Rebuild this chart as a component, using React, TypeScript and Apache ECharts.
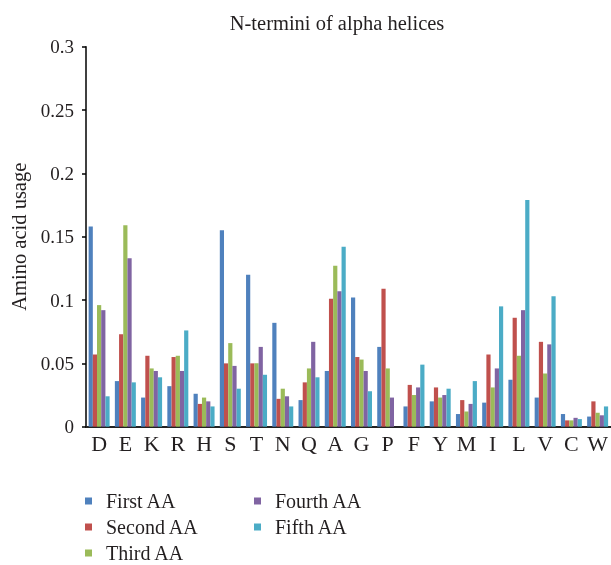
import React, { useEffect, useRef } from "react";
import * as echarts from "echarts";

const categories = ["D", "E", "K", "R", "H", "S", "T", "N", "Q", "A", "G", "P", "F", "Y", "M", "I", "L", "V", "C", "W"];
const firstAA = [0.158, 0.036, 0.023, 0.032, 0.026, 0.155, 0.120, 0.082, 0.021, 0.044, 0.102, 0.063, 0.016, 0.020, 0.010, 0.019, 0.037, 0.023, 0.010, 0.008];
const secondAA = [0.057, 0.073, 0.056, 0.055, 0.018, 0.050, 0.050, 0.022, 0.035, 0.101, 0.055, 0.109, 0.033, 0.031, 0.021, 0.057, 0.086, 0.067, 0.005, 0.020];
const thirdAA = [0.096, 0.159, 0.046, 0.056, 0.023, 0.066, 0.050, 0.030, 0.046, 0.127, 0.053, 0.046, 0.025, 0.023, 0.012, 0.031, 0.056, 0.042, 0.005, 0.011];
const fourthAA = [0.092, 0.133, 0.044, 0.044, 0.020, 0.048, 0.063, 0.024, 0.067, 0.107, 0.044, 0.023, 0.031, 0.025, 0.018, 0.046, 0.092, 0.065, 0.007, 0.009];
const fifthAA = [0.024, 0.035, 0.039, 0.076, 0.016, 0.030, 0.041, 0.016, 0.039, 0.142, 0.028, 0, 0.049, 0.030, 0.036, 0.095, 0.179, 0.103, 0.006, 0.016];
const seriesNames = ["First AA", "Second AA", "Third AA", "Fourth AA", "Fifth AA"];
const colors = ["#4F81BD", "#C0504D", "#9BBB59", "#8064A2", "#4BACC6"];

const FONT = "'Liberation Serif', 'DejaVu Serif', serif";
const TEXT = "#231F20";

// legend slots: [left, top] for each series' single-item legend
const legendSlots = [
  [85, 491],
  [85, 517],
  [85, 543],
  [254, 491],
  [254, 517],
];

export default function App() {
  const ref = useRef<HTMLDivElement>(null);
  useEffect(() => {
    if (!ref.current) return;
    const chart = echarts.init(ref.current, null, { renderer: "svg" });
    const values = [firstAA, secondAA, thirdAA, fourthAA, fifthAA];
    chart.setOption({
      animation: false,
      color: colors,
      title: {
        text: "N-termini of alpha helices",
        left: 332,
        top: 7,
        textAlign: "center",
        textStyle: { fontFamily: FONT, fontSize: 20.5, fontWeight: "normal", color: TEXT },
      },
      legend: seriesNames.map((name, i) => ({
        data: [name],
        left: legendSlots[i][0],
        top: legendSlots[i][1],
        padding: 0,
        itemWidth: 7,
        itemHeight: 7,
        icon: "rect",
        textStyle: {
          fontFamily: FONT,
          fontSize: 20,
          color: TEXT,
          lineHeight: 20,
          padding: [0, 0, 0, 9],
        },
      })),
      grid: { left: 86, right: 0, top: 46.7, bottom: 138.3, containLabel: false },
      xAxis: {
        type: "category",
        data: categories,
        axisLine: { lineStyle: { color: "#222", width: 2 } },
        axisTick: { show: false },
        axisLabel: { fontFamily: FONT, fontSize: 22, color: TEXT, margin: 6, interval: 0 },
      },
      yAxis: {
        type: "value",
        min: 0,
        max: 0.3,
        interval: 0.05,
        name: "Amino acid usage",
        nameLocation: "middle",
        nameGap: 56,
        nameTextStyle: { fontFamily: FONT, fontSize: 20.5, color: TEXT },
        axisLine: { show: true, lineStyle: { color: "#000", width: 1.5 } },
        axisTick: { show: true, length: 4, lineStyle: { color: "#000", width: 1.5 } },
        axisLabel: { fontFamily: FONT, fontSize: 19, color: TEXT, margin: 12 },
        splitLine: { show: false },
      },
      series: seriesNames.map((name, i) => ({
        name,
        type: "bar",
        data: values[i],
        barGap: "0%",
        barCategoryGap: "20%",
      })),
    });
    return () => chart.dispose();
  }, []);
  return (
    <div
      ref={ref}
      style={{ position: "fixed", left: 0, top: 0, width: 611, height: 565 }}
    />
  );
}
